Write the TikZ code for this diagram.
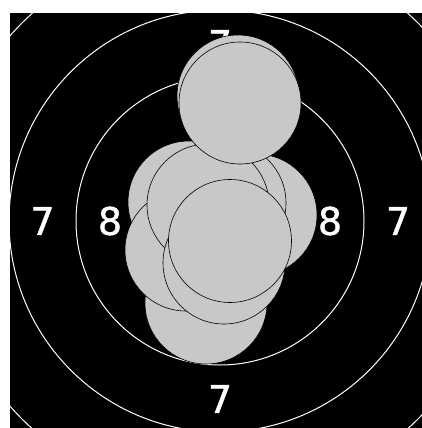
\documentclass[tikz,border=0pt]{standalone}
\usepackage{fontspec}
\newfontfamily\scorefont[FakeBold=1.2]{DejaVu Sans}
\definecolor{holegrey}{RGB}{200,200,200}
\begin{document}
\begin{tikzpicture}[x=1pt,y=-1pt,
  ring/.style={draw=white,line width=1pt},
  score/.style={text=white,inner sep=0pt,font=\scorefont\fontsize{38}{38}\selectfont},
  hole/.style={fill=holegrey,draw=black,line width=0.6pt}]
  \useasboundingbox (0,0) rectangle (422,428);
  % target card
  \fill[black] (10,13) rectangle (422,428);
  \begin{scope}
    \clip (10,13) rectangle (422,428);
    % scoring rings
    \draw[ring] (220,221) circle (144);
    \draw[ring] (220,221) circle (211);
    \draw[ring] (220,221) circle (280);
  \end{scope}
  % ring numbers
  \node[score] (sevenTop) at (220,44) {7};
  \node[score] (sevenLeft) at (42.5,221) {7};
  \node[score] (eightLeft) at (110,221) {8};
  \node[score] (eightRight) at (330,221) {8};
  \node[score] (sevenRight) at (398,221) {7};
  \node[score] (sevenBottom) at (220,399) {7};
  % shot holes, in firing order
  \draw[hole] (206,303) circle (61);
  \draw[hole] (189,202) circle (61);
  \draw[hole] (256,215) circle (61);
  \draw[hole] (186,250) circle (61);
  \draw[hole] (225,203) circle (61);
  \draw[hole] (208,205) circle (61);
  \draw[hole] (224,263) circle (61);
  \draw[hole] (230,241) circle (61.5);
  \draw[hole] (238,96) circle (61);
  \draw[hole] (240,103) circle (61);
\end{tikzpicture}
\end{document}
